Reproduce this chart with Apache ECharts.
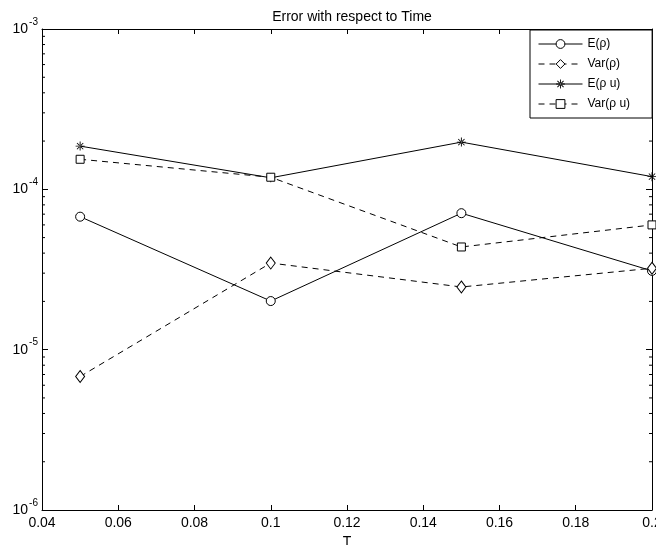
<!DOCTYPE html>
<html>
<head>
<meta charset="utf-8">
<script src="https://cdn.jsdelivr.net/npm/echarts@6/dist/echarts.min.js"></script>
<style>
html, body { margin: 0; padding: 0; background: #fff; }
#main { width: 656px; height: 545px; }
</style>
</head>
<body>
<div id="main"></div>
<script>
// data
var T = [0.05, 0.1, 0.15, 0.2];
var E_rho = [6.75e-5, 2.01e-5, 7.1e-5, 3.1e-5];
var Var_rho = [6.8e-6, 3.47e-5, 2.46e-5, 3.22e-5];
var E_rhou = [1.86e-4, 1.18e-4, 1.97e-4, 1.2e-4];
var Var_rhou = [1.54e-4, 1.19e-4, 4.37e-5, 6.0e-5];
var names = ['E(ρ)', 'Var(ρ)', 'E(ρ u)', 'Var(ρ u)'];
// log minor tick positions
var minorTicks = [2e-6, 3e-6, 4e-6, 5e-6, 6e-6, 7e-6, 8e-6, 9e-6,
                  2e-5, 3e-5, 4e-5, 5e-5, 6e-5, 7e-5, 8e-5, 9e-5,
                  2e-4, 3e-4, 4e-4, 5e-4, 6e-4, 7e-4, 8e-4, 9e-4];

var FONT = 'Liberation Sans, Arial, sans-serif';
var starPath = 'path://M-0.5,-5L0.5,-5L0.5,5L-0.5,5Z' +
    'M-5,-0.5L5,-0.5L5,0.5L-5,0.5Z' +
    'M-3.85,-3.15L3.15,3.85L3.85,3.15L-3.15,-3.85Z' +
    'M-3.85,3.15L-3.15,3.85L3.85,-3.15L3.15,-3.85Z';

function pts(ys) {
    return T.map(function (t, i) { return [t, ys[i]]; });
}

function lineSeries(name, ys, symbol, size, dashed, filled) {
    return {
        name: name,
        type: 'line',
        data: pts(ys),
        symbol: symbol,
        symbolSize: size,
        showAllSymbol: true,
        lineStyle: { color: '#000', width: 1, type: dashed ? [6, 5] : 'solid' },
        itemStyle: filled
            ? { color: '#000', borderWidth: 0 }
            : { color: '#fff', borderColor: '#000', borderWidth: 1 },
        emphasis: { disabled: true },
        animation: false,
        z: 3
    };
}

var chart = echarts.init(document.getElementById('main'));
chart.setOption({
    backgroundColor: '#fff',
    animation: false,
    title: {
        text: 'Error with respect to Time',
        left: 347,
        textAlign: 'center',
        top: 5,
        textStyle: { fontFamily: FONT, fontSize: 14, fontWeight: 'normal', color: '#000' }
    },
    grid: { left: 42, right: 4, top: 29, bottom: 35, outerBoundsMode: 'none' },
    legend: {
        data: names,
        orient: 'vertical',
        left: 530,
        top: 30,
        itemWidth: 44,
        itemHeight: 11,
        itemGap: 8,
        padding: [8, 22, 8, 8],
        borderColor: '#000',
        borderWidth: 1,
        backgroundColor: '#fff',
        lineStyle: { width: 1 },
        itemStyle: { borderWidth: 1 },
        textStyle: { fontFamily: FONT, fontSize: 12, color: '#000' },
        z: 10
    },
    xAxis: [{
        type: 'value',
        min: 0.04,
        max: 0.2,
        interval: 0.02,
        name: 'T',
        nameLocation: 'middle',
        nameGap: 22,
        nameTextStyle: { fontFamily: FONT, fontSize: 14, color: '#000' },
        axisLine: { onZero: false, lineStyle: { color: '#000', width: 1 } },
        axisTick: { inside: true, length: 5, lineStyle: { color: '#000' } },
        axisLabel: {
            margin: 6,
            fontFamily: FONT, fontSize: 14, color: '#000',
            formatter: function (v) { return String(+v.toFixed(2)); }
        },
        splitLine: { show: false }
    }, {
        type: 'value',
        position: 'top',
        min: 0.04,
        max: 0.2,
        interval: 0.02,
        axisLine: { onZero: false, lineStyle: { color: '#000', width: 1 } },
        axisTick: { inside: true, length: 5, lineStyle: { color: '#000' } },
        axisLabel: { show: false },
        splitLine: { show: false }
    }],
    yAxis: [{
        type: 'log',
        logBase: 10,
        min: 1e-6,
        max: 1e-3,
        axisLine: { onZero: false, lineStyle: { color: '#000', width: 1 } },
        axisTick: { inside: true, length: 6, lineStyle: { color: '#000' } },
        axisLabel: {
            margin: 4,
            color: '#000',
            formatter: function (v) {
                return '{b|10}{s|' + Math.round(Math.log10(v)) + '}';
            },
            rich: {
                b: { fontFamily: FONT, fontSize: 14, color: '#000', padding: [6, 0, 6, 0] },
                s: { fontFamily: FONT, fontSize: 10, color: '#000', padding: [0, 0, 14, 1] }
            }
        },
        splitLine: { show: false }
    }, {
        type: 'log',
        logBase: 10,
        min: 1e-6,
        max: 1e-3,
        position: 'right',
        axisLine: { onZero: false, lineStyle: { color: '#000', width: 1 } },
        axisTick: { inside: true, length: 6, lineStyle: { color: '#000' } },
        axisLabel: { show: false },
        splitLine: { show: false }
    }],
    series: [
        lineSeries(names[0], E_rho, 'circle', 9, false, false),
        lineSeries(names[1], Var_rho, 'diamond', [9, 12], true, false),
        lineSeries(names[2], E_rhou, starPath, 9, false, true),
        lineSeries(names[3], Var_rhou, 'rect', 8, true, false),
        {
            // log minor ticks on left and right edges
            type: 'custom',
            data: minorTicks,
            silent: true,
            z: 2,
            renderItem: function (params, api) {
                var v = api.value(0);
                var l = api.coord([0.04, v]);
                var r = api.coord([0.2, v]);
                var st = { stroke: '#000', lineWidth: 1 };
                return {
                    type: 'group',
                    children: [
                        { type: 'line', shape: { x1: l[0], y1: l[1], x2: l[0] + 3, y2: l[1] }, style: st },
                        { type: 'line', shape: { x1: r[0], y1: r[1], x2: r[0] - 3, y2: r[1] }, style: st }
                    ]
                };
            },
            encode: { y: 0 }
        }
    ]
});
</script>
</body>
</html>
